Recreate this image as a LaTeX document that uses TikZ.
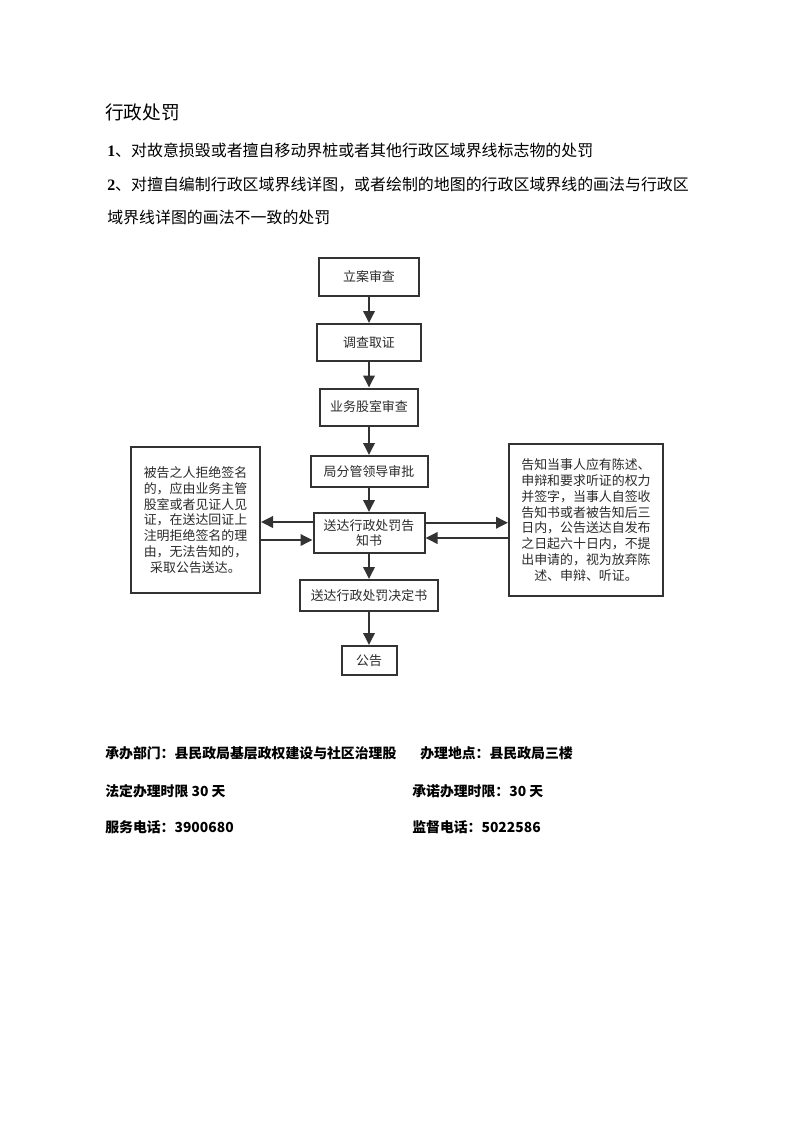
\documentclass[tikz,border=0pt]{standalone}
\usepackage{fontspec}
\newfontfamily\cjk{Noto Sans CJK SC}
\newfontfamily\numfont{Liberation Serif}
\usetikzlibrary{arrows.meta}
\definecolor{boxc}{HTML}{333333}
\definecolor{txtc}{HTML}{2A2A2A}
\begin{document}
\begin{tikzpicture}[x=0.75pt,y=-0.75pt,
  box/.style={draw=boxc, line width=1.5pt, inner sep=0pt, text=txtc,
    font=\cjk\fontsize{9.7}{11.9}\selectfont, align=center},
  arr/.style={draw=boxc, line width=1.8pt, -{Triangle[length=9pt,width=8.5pt]}},
  head/.style={anchor=west, inner sep=0pt, text=black},
  foot/.style={anchor=west, inner sep=0pt, text=black, font=\cjk\bfseries\fontsize{10.4}{12}\selectfont}]
\useasboundingbox (0,0) rectangle (793,1122);
\fill[white] (0,0) rectangle (793,1122);

% heading
\node[head, font=\cjk\fontsize{14}{16}\selectfont] (title) at (105,112) {行政处罚};
\node[head, font=\cjk\fontsize{11.95}{14}\selectfont] (item1) at (107,150)
  {{\numfont\bfseries 1}、对故意损毁或者擅自移动界桩或者其他行政区域界线标志物的处罚};
\node[head, font=\cjk\fontsize{11.95}{14}\selectfont] (item2) at (107,185)
  {{\numfont\bfseries 2}、对擅自编制行政区域界线详图，或者绘制的地图的行政区域界线的画法与行政区};
\node[head, font=\cjk\fontsize{11.95}{14}\selectfont] (item3) at (107,217)
  {域界线详图的画法不一致的处罚};

% flowchart
\node[box, minimum width=75pt, minimum height=28.5pt] (b1) at (369,277) {立案审查};
\node[box, minimum width=78pt, minimum height=27.75pt] (b2) at (369,342.5) {调查取证};
\node[box, minimum width=73.5pt, minimum height=27.75pt] (b3) at (369,407) {业务股室审查};
\node[box, minimum width=87.75pt, minimum height=23.25pt] (b4) at (369,471.5) {局分管领导审批};
\node[box, minimum width=83.25pt, minimum height=30pt] (b5) at (369,533) {送达行政处罚告\\知书};
\node[box, minimum width=103.5pt, minimum height=23.25pt] (b6) at (369,595.5) {送达行政处罚决定书};
\node[box, minimum width=41.25pt, minimum height=21.75pt] (b7) at (369,660.5) {公告};

\node[box, minimum width=96.75pt, minimum height=109.5pt] (L) at (195.5,520)
  {被告之人拒绝签名\\的，应由业务主管\\股室或者见证人见\\证，在送达回证上\\注明拒绝签名的理\\由，无法告知的，\\采取公告送达。};
\node[box, minimum width=115.5pt, minimum height=114pt] (R) at (586,520)
  {告知当事人应有陈述、\\申辩和要求听证的权力\\并签字，当事人自签收\\告知书或者被告知后三\\日内，公告送达自发布\\之日起六十日内，不提\\出申请的，视为放弃陈\\述、申辩、听证。};

\draw[arr] (b1) -- (b2);
\draw[arr] (b2) -- (b3);
\draw[arr] (b3) -- (b4);
\draw[arr] (b4) -- (b5);
\draw[arr] (b5) -- (b6);
\draw[arr] (b6) -- (b7);

\coordinate (la) at ([yshift=8.25pt]b5.west);
\coordinate (lb) at ([yshift=-5.25pt]b5.west);
\coordinate (ra) at ([yshift=7.7pt]b5.east);
\coordinate (rb) at ([yshift=-3.75pt]b5.east);
\draw[arr] (la) -- (la -| L.east);
\draw[arr] (lb -| L.east) -- (lb);
\draw[arr] (ra) -- (ra -| R.west);
\draw[arr] (rb -| R.west) -- (rb);

% footer
\node[foot] (f1) at (105,753) {承办部门：县民政局基层政权建设与社区治理股};
\node[foot] (f2) at (420,753) {办理地点：县民政局三楼};
\node[foot] (f3) at (105,791) {法定办理时限 30 天};
\node[foot] (f4) at (412,791) {承诺办理时限：30 天};
\node[foot] (f5) at (105,827) {服务电话：3900680};
\node[foot] (f6) at (412,827) {监督电话：5022586};
\end{tikzpicture}
\end{document}
